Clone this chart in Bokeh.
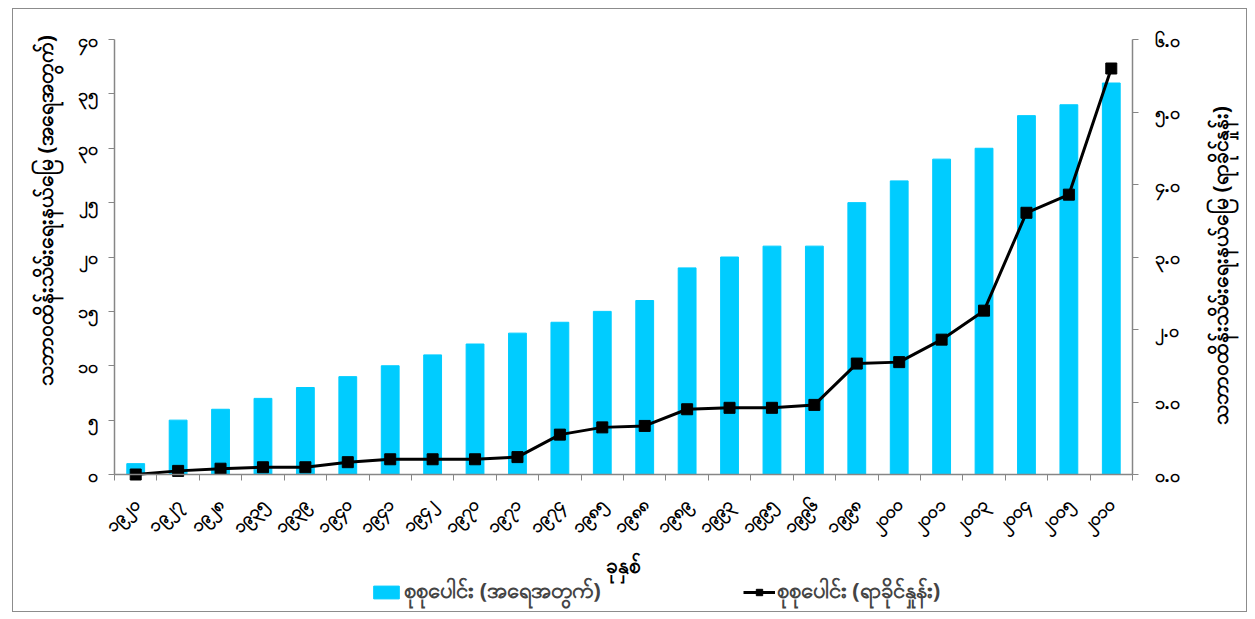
import math
from bokeh.plotting import figure
from bokeh.models import (ColumnDataSource, Range1d, LinearAxis, FixedTicker,
                          Legend, LegendItem, Label)
from bokeh.embed import file_html
from bokeh.resources import INLINE

# ---- data ----
years = ["၁၉၂၀", "၁၉၂၇", "၁၉၂၈", "၁၉၃၅", "၁၉၃၉", "၁၉၄၀", "၁၉၄၁", "၁၉၄၂",
         "၁၉၇၀", "၁၉၇၁", "၁၉၇၄", "၁၉၈၅", "၁၉၈၈", "၁၉၈၉", "၁၉၉၃", "၁၉၉၅",
         "၁၉၉၆", "၁၉၉၈", "၂၀၀၀", "၂၀၀၁", "၂၀၀၃", "၂၀၀၄", "၂၀၀၅", "၂၀၁၀"]
counts = [1, 5, 6, 7, 8, 9, 10, 11, 12, 13, 14, 15, 16, 19, 20, 21, 21, 25,
          27, 29, 30, 33, 34, 36]
percent = [0.0, 0.05, 0.08, 0.1, 0.1, 0.17, 0.21, 0.21, 0.21, 0.24, 0.55,
           0.65, 0.67, 0.9, 0.92, 0.92, 0.96, 1.53, 1.55, 1.86, 2.26, 3.61,
           3.86, 5.6]
left_ticks = [0, 5, 10, 15, 20, 25, 30, 35, 40]
left_tick_labels = ["၀", "၅", "၁၀", "၁၅", "၂၀", "၂၅", "၃၀", "၃၅", "၄၀"]
right_ticks = [0, 1, 2, 3, 4, 5, 6]
right_tick_labels = ["၀.၀", "၁.၀", "၂.၀", "၃.၀", "၄.၀", "၅.၀", "၆.၀"]

left_title = "သဘာဝထိန်းသိမ်းရေးနယ်မြေ (အရေအတွက်)"
right_title = "သဘာဝထိန်းသိမ်းရေးနယ်မြေ (ရာခိုင်နှုန်း)"
x_title = "ခုနှစ်"
bar_name = "စုစုပေါင်း (အရေအတွက်)"
line_name = "စုစုပေါင်း (ရာခိုင်နှုန်း)"

FONT = "Noto Sans"
AXIS_COLOR = "#868686"
BAR_COLOR = "#00CCFF"

# ---- layout (page pixels) ----
FR_L, FR_R, FR_T, FR_B = 13, 1246, 9, 611        # drawable area inside border
PL_L, PL_R, PL_T, PL_B = 114, 1132, 39, 474      # value-axis box
Y_MAX, Y2_MAX = 40, 6

n = len(years)
ux = (PL_R - PL_L) / n
uy = (PL_B - PL_T) / Y_MAX
uy2 = (PL_B - PL_T) / Y2_MAX


def dx(px):
    return (px - PL_L) / ux


def dy(py):
    return (PL_B - py) / uy


xpos = [i + 0.5 for i in range(n)]
src = ColumnDataSource(dict(x=xpos, year=years, count=counts, pct=percent))

p = figure(frame_width=FR_R - FR_L, frame_height=FR_B - FR_T,
           output_backend="svg", toolbar_location=None,
           x_range=Range1d(dx(FR_L), dx(FR_R)),
           y_range=Range1d(dy(FR_B), dy(FR_T)),
           min_border_left=0, min_border_right=0, min_border_top=0,
           min_border_bottom=0)
p.styles = {"border": "1px solid #8c8c8c", "margin-left": "12px",
            "margin-top": "8px"}
p.outline_line_color = None
p.xgrid.visible = False
p.ygrid.visible = False
p.extra_y_ranges = {"pct": Range1d(-(FR_B - PL_B) / uy2,
                                   Y2_MAX + (PL_T - FR_T) / uy2)}

bars = p.vbar(x="x", top="count", width=0.42, source=src, color=BAR_COLOR)
line = p.line(x="x", y="pct", source=src, y_range_name="pct",
              line_color="black", line_width=3)
marks = p.scatter(x="x", y="pct", source=src, y_range_name="pct",
                  marker="square", size=11, color="black")

# x axis
xa = p.xaxis[0]
xa.fixed_location = 0
xa.bounds = (0, n)
xa.ticker = FixedTicker(ticks=xpos, minor_ticks=list(range(n + 1)))
xa.major_label_overrides = {x: y for x, y in zip(xpos, years)}
xa.major_label_orientation = math.pi / 4
xa.major_label_standoff = 20
xa.major_tick_out = 0
xa.major_tick_in = 0
xa.minor_tick_out = 6
xa.minor_tick_in = 0
xa.axis_label = x_title
xa.axis_label_text_font_style = "bold"
xa.axis_label_standoff = 2

# left axis
ya = p.yaxis[0]
ya.fixed_location = 0
ya.bounds = (0, Y_MAX)
ya.ticker = FixedTicker(ticks=left_ticks, minor_ticks=[])
ya.major_label_overrides = {t: l for t, l in zip(left_ticks, left_tick_labels)}
ya.major_tick_out = 6
ya.major_tick_in = 0
ya.major_label_standoff = 11

# right axis
ra = LinearAxis(y_range_name="pct", bounds=(0, Y2_MAX), fixed_location=n)
ra.ticker = FixedTicker(ticks=right_ticks, minor_ticks=[])
ra.major_label_overrides = {t: l for t, l in zip(right_ticks, right_tick_labels)}
ra.major_tick_out = 6
ra.major_tick_in = 0
ra.major_label_standoff = 16
p.add_layout(ra, "right")

for ax in [xa, ya, ra]:
    ax.axis_line_color = AXIS_COLOR
    ax.axis_line_width = 1.5
    ax.major_tick_line_color = AXIS_COLOR
    ax.minor_tick_line_color = AXIS_COLOR
    ax.major_label_text_font = FONT
    ax.major_label_text_font_size = "18px"
    ax.major_label_text_font_style = "bold"
    ax.major_label_text_color = "black"
    ax.axis_label_text_font = FONT
    ax.axis_label_text_font_size = "21px"
    ax.axis_label_text_color = "black"

# vertical axis titles (both read bottom-to-top)
for txt, px, py in [(left_title, 44, 210), (right_title, 1219, 265)]:
    p.add_layout(Label(x=dx(px), y=dy(py), text=txt, angle=math.pi / 2,
                       text_align="center", text_baseline="middle",
                       text_font=FONT, text_font_size="21px",
                       text_font_style="bold", text_color="black"))

legend = Legend(items=[LegendItem(label=bar_name, renderers=[bars]),
                       LegendItem(label=line_name, renderers=[line, marks])],
                orientation="horizontal", location=(370 - FR_L, 2),
                glyph_width=32, glyph_height=16, spacing=142,
                label_text_font=FONT, label_text_font_size="22px",
                label_text_font_style="bold", border_line_color=None,
                background_fill_alpha=0, padding=0, margin=0,
                label_standoff=2)
p.add_layout(legend, "center")

open("out.html", "w").write(file_html(p, INLINE))
